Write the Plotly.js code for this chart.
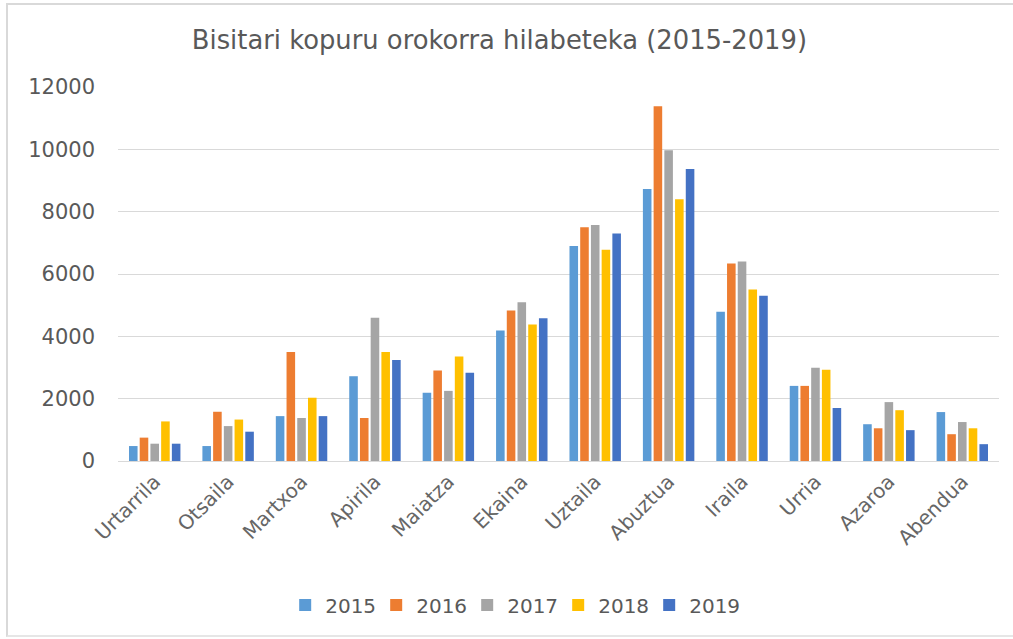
<!DOCTYPE html>
<html>
<head>
<meta charset="utf-8">
<script src="https://cdn.plot.ly/plotly-3.0.1.min.js"></script>
<style>
html,body{margin:0;padding:0;background:#fff;overflow:hidden;}
#chart{width:1013px;height:639px;}
#frame{position:absolute;left:6px;top:3px;width:1005px;height:630px;border-left:2px solid #d9d9d9;border-top:2px solid #d9d9d9;border-bottom:2px solid #e6e6e6;pointer-events:none;z-index:10;}
</style>
</head>
<body>
<div id="frame"></div>
<div id="chart"></div>
<script>
const months = ["Urtarrila","Otsaila","Martxoa","Apirila","Maiatza","Ekaina","Uztaila","Abuztua","Iraila","Urria","Azaroa","Abendua"];
const years = ["2015","2016","2017","2018","2019"];
const v2015 = [480, 480, 1440, 2720, 2190, 4190, 6900, 8730, 4790, 2410, 1180, 1570];
const v2016 = [750, 1580, 3500, 1380, 2900, 4830, 7500, 11380, 6340, 2410, 1050, 860];
const v2017 = [555, 1120, 1380, 4600, 2250, 5090, 7570, 9970, 6400, 2990, 1890, 1250];
const v2018 = [1270, 1330, 2030, 3500, 3350, 4380, 6780, 8400, 5500, 2925, 1630, 1050];
const v2019 = [555, 940, 1440, 3240, 2830, 4580, 7300, 9370, 5300, 1700, 990, 540];
const seriesValues = [v2015, v2016, v2017, v2018, v2019];
const colors = ["#5B9BD5","#ED7D31","#A5A5A5","#FFC000","#4472C4"];
const yTicks = [0,2000,4000,6000,8000,10000,12000];

const FONT = "DejaVu Sans, Open Sans, sans-serif";
const traces = years.map((y,i)=>({
  type:"bar", name:y, x:months, y:seriesValues[i],
  marker:{color:colors[i]}, hoverinfo:"x+y+name"
}));

const layout = {
  width:1013, height:639,
  margin:{l:118, r:14, t:87, b:178},
  paper_bgcolor:"#fff", plot_bgcolor:"#fff",
  font:{family:FONT, color:"#595959"},
  title:{text:"Bisitari kopuru orokorra hilabeteka (2015-2019)", font:{size:25.8, color:"#595959", family:FONT}, x:0.493, xanchor:"center", y:0.937, yanchor:"middle"},
  barmode:"group", bargap:0.27, bargroupgap:0.2,
  xaxis:{type:"category", tickangle:-45, tickfont:{size:20, color:"#666666"}, showgrid:false, showline:true, linecolor:"#d9d9d9", linewidth:1, ticks:"", automargin:false},
  yaxis:{range:[0,12000], tickvals:yTicks, ticktext:yTicks.map(String), tickfont:{size:21, color:"#595959"}, showgrid:true, gridcolor:"#d9d9d9", gridwidth:1, zeroline:false, showline:false, ticks:"", ticklabelstandoff:22, automargin:false},
  legend:{orientation:"h", x:0.448, xanchor:"center", y:-0.385, yanchor:"middle", font:{size:20, color:"#595959"}, entrywidth:46, entrywidthmode:"pixels", traceorder:"normal"},
  showlegend:true
};
Plotly.newPlot("chart", traces, layout, {displayModeBar:false, staticPlot:true});
</script>
</body>
</html>
